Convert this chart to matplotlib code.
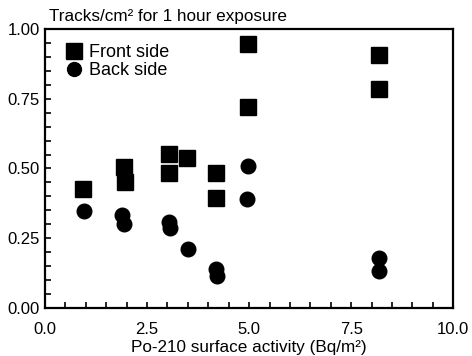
import numpy as np
import matplotlib.pyplot as plt
from matplotlib.ticker import MultipleLocator

plt.rcParams["font.family"] = ["Liberation Sans", "DejaVu Sans"]

front_x = [0.93, 1.94, 1.96, 3.04, 3.04, 3.47, 4.19, 4.19, 4.97, 4.97, 8.17, 8.17]
front_y = [0.427, 0.505, 0.45, 0.552, 0.484, 0.538, 0.484, 0.394, 0.946, 0.72, 0.907, 0.785]
back_x = [0.96, 1.89, 1.94, 3.04, 3.06, 4.97, 4.95, 3.5, 4.19, 4.21, 8.19, 8.19]
back_y = [0.348, 0.333, 0.301, 0.308, 0.287, 0.509, 0.391, 0.211, 0.14, 0.115, 0.179, 0.133]

x_ticks = [0.0, 2.5, 5.0, 7.5, 10.0]
y_ticks = [0.0, 0.25, 0.5, 0.75, 1.0]

fig = plt.figure(figsize=(4.72, 3.56), dpi=100)
ax = fig.add_axes([0.0953, 0.135, 0.865, 0.7835])

ax.plot(front_x, front_y, "s", color="black", markersize=12, label="Front side", linestyle="none")
ax.plot(back_x, back_y, "o", color="black", markersize=10.5, label="Back side", linestyle="none")

ax.set_xlim(0, 10)
ax.set_ylim(0, 1)
ax.set_xticks(x_ticks)
ax.set_xticklabels([f"{v:.1f}" for v in x_ticks])
ax.set_yticks(y_ticks)
ax.set_yticklabels([f"{v:.2f}" for v in y_ticks])
ax.xaxis.set_minor_locator(MultipleLocator(0.5))
ax.yaxis.set_minor_locator(MultipleLocator(0.05))
ax.tick_params(which="both", direction="in", length=4, width=1.2, labelsize=12, color="black")
ax.tick_params(axis="x", pad=10)
for s in ax.spines.values():
    s.set_linewidth(1.6)

ax.set_xlabel("Po-210 surface activity (Bq/m²)", fontsize=12.3, labelpad=2)
fig.text(0.103, 0.955, "Tracks/cm² for 1 hour exposure", fontsize=12.3, va="center", ha="left")

ax.legend(loc="upper left", bbox_to_anchor=(0.0, 1.01), frameon=False, fontsize=13,
          handletextpad=0.25, borderaxespad=0.6, labelspacing=0.05, handlelength=1.2,
          markerscale=0.95)

fig.savefig("out.png", dpi=100)
